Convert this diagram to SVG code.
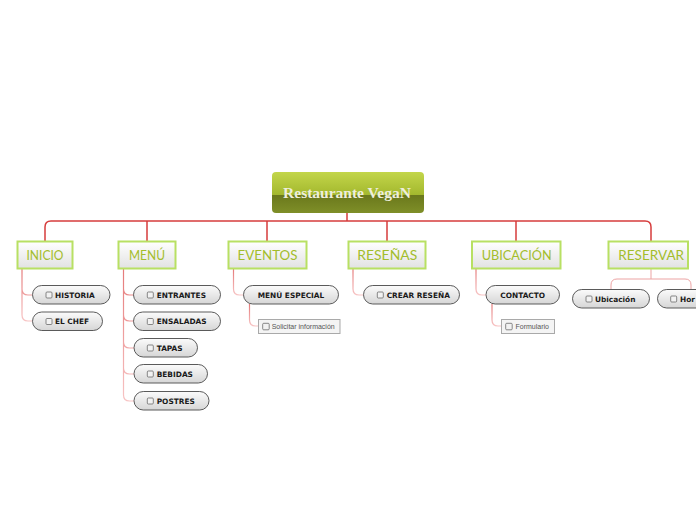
<svg xmlns="http://www.w3.org/2000/svg" width="696" height="520" viewBox="0 0 696 520">
<defs>
<linearGradient id="gTop" x1="0" y1="0" x2="0" y2="1"><stop offset="0" stop-color="#c3d64a"/><stop offset="1" stop-color="#a3b82e"/></linearGradient>
<linearGradient id="gBot" x1="0" y1="0" x2="0" y2="1"><stop offset="0" stop-color="#6a781c"/><stop offset="1" stop-color="#7f8f28"/></linearGradient>
<linearGradient id="gMain" x1="0" y1="0" x2="0" y2="1"><stop offset="0" stop-color="#ffffff"/><stop offset="1" stop-color="#e2e2e2"/></linearGradient>
<linearGradient id="gPill" x1="0" y1="0" x2="0" y2="1"><stop offset="0" stop-color="#fbfbfb"/><stop offset="1" stop-color="#d6d6d6"/></linearGradient>
<linearGradient id="gLine" x1="0" y1="0" x2="0" y2="1"><stop offset="0" stop-color="#e57a7a"/><stop offset="1" stop-color="#f7c4c4"/></linearGradient>
<clipPath id="rootClip"><rect x="272" y="172" width="152" height="41" rx="4"/></clipPath>
</defs>
<style>
.main rect{fill:url(#gMain);stroke:#b8e063;stroke-width:2}
.main text{font-family:Lato,"Open Sans","DejaVu Sans",sans-serif;font-weight:400;font-size:13px;fill:#a3bd2c;text-anchor:middle}
.pill rect.p{fill:url(#gPill);stroke:#5a5a5a;stroke-width:1}
.pill text{font-family:"DejaVu Sans",Verdana,sans-serif;font-weight:bold;font-size:7.4px;fill:#1a1a1a}
.cb{fill:#f2f2f2;stroke:#6a6a6a;stroke-width:0.8}
.note rect.n{fill:#f4f4f4;stroke:#a9a9a9;stroke-width:1}
.note text{font-family:"Liberation Sans",Arial,sans-serif;font-size:7px;fill:#555}
.c1{fill:none;stroke:#d63c3c;stroke-width:1.5}
.c2{fill:none;stroke:url(#gLine);stroke-width:1.2}
.c3{fill:none;stroke:#eca3a3;stroke-width:1}
</style>
<g id="connectors">
<path class="c1" d="M347,213 V221 M45,241 V227 Q45,221 51,221 H645 Q651,221 651,227 V241 M147,221 V241 M267,221 V241 M387,221 V241 M516,221 V241"/>
<path class="c2" d="M22,269 V315 Q22,321 28,321 H32 M22,289 Q22,295 28,295 H32"/>
<path class="c2" d="M123.5,269 V395 Q123.5,401 129.5,401 H134 M123.5,289 Q123.5,295 129.5,295 H134 M123.5,315 Q123.5,321 129.5,321 H134 M123.5,342 Q123.5,348 129.5,348 H134 M123.5,368 Q123.5,374 129.5,374 H134"/>
<path class="c2" d="M233.5,269 V289 Q233.5,295 239.5,295 H243"/>
<path class="c2" d="M249.5,304 V320 Q249.5,326 255.5,326 H258"/>
<path class="c2" d="M353,269 V289 Q353,295 359,295 H363"/>
<path class="c2" d="M476,269 V289 Q476,295 482,295 H486"/>
<path class="c2" d="M492,304 V320 Q492,326 498,326 H501"/>
<path class="c3" d="M651,269 V279 M611,289 V285 Q611,279 617,279 H685 Q691,279 691,285 V289"/>
</g>
<g id="root">
<g clip-path="url(#rootClip)">
<rect x="272" y="172" width="152" height="23" fill="url(#gTop)"/>
<rect x="272" y="195" width="152" height="18" fill="url(#gBot)"/>
</g>
<text x="347" y="198" text-anchor="middle" font-family="'Liberation Serif','Times New Roman',serif" font-weight="bold" font-size="15.5" fill="#eeeedd">Restaurante VegaN</text>
</g>
<g id="inicio" class="main"><rect x="17.5" y="241.5" width="55" height="27"/><text x="45" y="259.5" textLength="37" lengthAdjust="spacingAndGlyphs">INICIO</text></g>
<g id="menu" class="main"><rect x="118.5" y="241.5" width="57" height="27"/><text x="147" y="259.5" textLength="36" lengthAdjust="spacingAndGlyphs">MENÚ</text></g>
<g id="eventos" class="main"><rect x="228.5" y="241.5" width="78" height="27"/><text x="267.5" y="259.5" textLength="60" lengthAdjust="spacingAndGlyphs">EVENTOS</text></g>
<g id="resenas" class="main"><rect x="348.5" y="241.5" width="77" height="27"/><text x="387.3" y="259.5" textLength="60" lengthAdjust="spacingAndGlyphs">RESEÑAS</text></g>
<g id="ubicacion" class="main"><rect x="472" y="241.5" width="88.5" height="27"/><text x="516.7" y="259.5" textLength="70" lengthAdjust="spacingAndGlyphs">UBICACIÓN</text></g>
<g id="reservar" class="main"><rect x="608.5" y="241.5" width="79.5" height="27"/><text x="651.2" y="259.5" textLength="65.7" lengthAdjust="spacingAndGlyphs">RESERVAR</text></g>

<g id="historia" class="pill"><rect class="p" x="32.5" y="285.5" width="77.5" height="18.5" rx="9.25"/><rect class="cb" x="46" y="292" width="6" height="6" rx="1"/><text x="55" y="297.8">HISTORIA</text></g>
<g id="elchef" class="pill"><rect class="p" x="32.5" y="312" width="70" height="18.5" rx="9.25"/><rect class="cb" x="46" y="318.5" width="6" height="6" rx="1"/><text x="55" y="324.3">EL CHEF</text></g>
<g id="entrantes" class="pill"><rect class="p" x="133.5" y="285.5" width="87" height="18.5" rx="9.25"/><rect class="cb" x="147.3" y="292" width="6" height="6" rx="1"/><text x="156.7" y="297.8">ENTRANTES</text></g>
<g id="ensaladas" class="pill"><rect class="p" x="133.5" y="312" width="87" height="18.5" rx="9.25"/><rect class="cb" x="147.3" y="318.5" width="6" height="6" rx="1"/><text x="156.7" y="324.3">ENSALADAS</text></g>
<g id="tapas" class="pill"><rect class="p" x="134" y="338.5" width="63.5" height="18.5" rx="9.25"/><rect class="cb" x="147.3" y="345" width="6" height="6" rx="1"/><text x="156.7" y="350.8">TAPAS</text></g>
<g id="bebidas" class="pill"><rect class="p" x="134" y="364.5" width="73.5" height="18.5" rx="9.25"/><rect class="cb" x="147.3" y="371" width="6" height="6" rx="1"/><text x="156.7" y="376.8">BEBIDAS</text></g>
<g id="postres" class="pill"><rect class="p" x="134" y="391.5" width="75" height="18.5" rx="9.25"/><rect class="cb" x="147.3" y="398" width="6" height="6" rx="1"/><text x="156.7" y="403.8">POSTRES</text></g>
<g id="menuespecial" class="pill"><rect class="p" x="243.5" y="285.5" width="95" height="18.5" rx="9.25"/><text x="291" y="297.8" text-anchor="middle">MENÚ ESPECIAL</text></g>
<g id="solicitar" class="note"><rect class="n" x="258.5" y="319.5" width="81.5" height="14"/><rect class="cb" x="262.7" y="323.3" width="6.5" height="6.5" rx="1"/><text x="271.7" y="329.2">Solicitar información</text></g>
<g id="crearresena" class="pill"><rect class="p" x="363.5" y="285.5" width="96" height="18.5" rx="9.25"/><rect class="cb" x="377.3" y="292" width="6" height="6" rx="1"/><text x="386.7" y="297.8">CREAR RESEÑA</text></g>
<g id="contacto" class="pill"><rect class="p" x="486" y="285.5" width="73.5" height="18.5" rx="9.25"/><text x="522.7" y="297.8" text-anchor="middle">CONTACTO</text></g>
<g id="formulario" class="note"><rect class="n" x="501.5" y="319.5" width="53" height="14"/><rect class="cb" x="505.7" y="323.3" width="6.5" height="6.5" rx="1"/><text x="515.5" y="329.2">Formulario</text></g>
<g id="ubicacion2" class="pill"><rect class="p" x="572.5" y="289.5" width="77" height="18.5" rx="9.25"/><rect class="cb" x="586" y="296" width="6" height="6" rx="1"/><text x="595" y="301.8">Ubicación</text></g>
<g id="horario" class="pill"><rect class="p" x="657.5" y="289.5" width="70" height="18.5" rx="9.25"/><rect class="cb" x="670.7" y="296" width="6" height="6" rx="1"/><text x="680" y="301.8">Hor</text></g>
</svg>
